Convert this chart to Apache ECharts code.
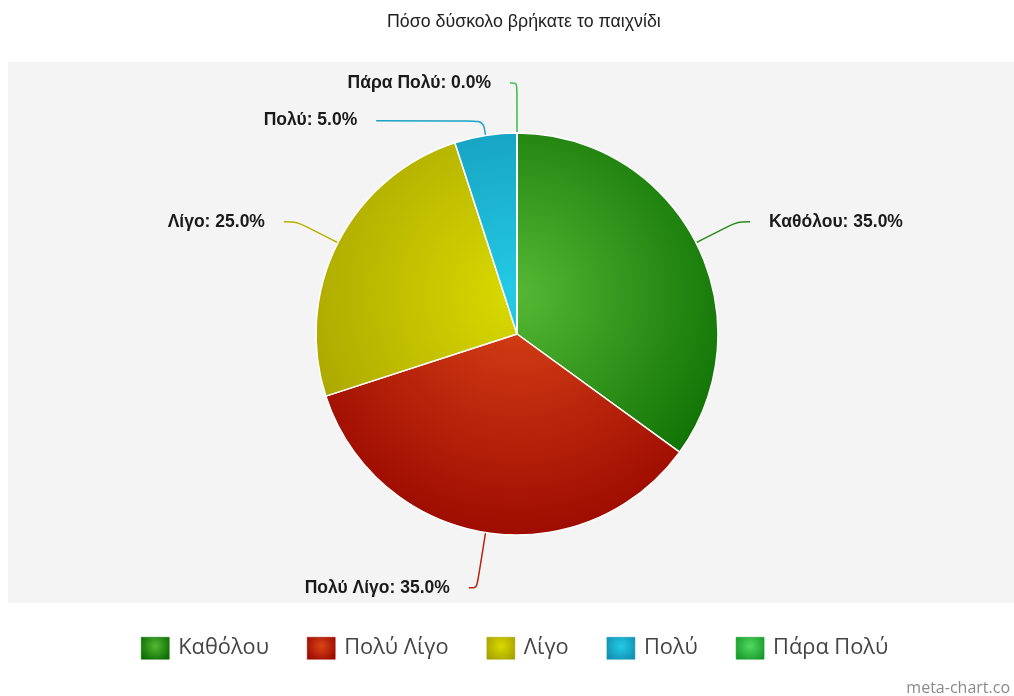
<!DOCTYPE html>
<html>
<head>
<meta charset="utf-8">
<script src="https://cdn.jsdelivr.net/npm/echarts@6/dist/echarts.min.js"></script>
<style>
html,body{margin:0;padding:0;background:#fff;}
#chart{width:1014px;height:696px;}
</style>
</head>
<body>
<div id="chart"></div>
<script>
const title = 'Πόσο δύσκολο βρήκατε το παιχνίδι';
const categories = ['Καθόλου', 'Πολύ Λίγο', 'Λίγο', 'Πολύ', 'Πάρα Πολύ'];
const values = [35, 35, 25, 5, 0];
const lightColors = ['#55b834', '#da4418', '#dada00', '#24cbe6', '#52d862'];
const darkColors = ['#0a6c00', '#9c0a00', '#a6a200', '#1190b2', '#169a2a'];
const lineColors = ['#2a8c1a', '#b82512', '#b4b400', '#1aa2c2', '#3cb84a'];

// connector geometry (layout, not data)
const lineLen1 = [46, 56, 46, 15, 50];
const lineLen2 = [13, 8, 13, 107, 7];

const cx = 517, cy = 334, R = 201;

function sliceGradient(i) {
  return {
    type: 'radial', x: cx, y: cy - 40, r: 250, global: true,
    colorStops: [{offset: 0, color: lightColors[i]}, {offset: 1, color: darkColors[i]}]
  };
}
function iconGradient(i) {
  return {
    type: 'radial', x: 0.5, y: 0.4, r: 0.75,
    colorStops: [{offset: 0, color: lightColors[i]}, {offset: 1, color: darkColors[i]}]
  };
}

const chart = echarts.init(document.getElementById('chart'), null, {renderer: 'canvas'});
chart.setOption({
  backgroundColor: '#ffffff',
  animation: false,
  title: {
    text: title, left: 382, top: 8,
    textStyle: {fontFamily: 'Liberation Sans', fontSize: 17.8, fontWeight: 'normal', color: '#222'}
  },
  graphic: [
    {type: 'rect', left: 8, top: 62, shape: {width: 1006, height: 541}, style: {fill: '#f4f4f4'}, z: -10},
    {type: 'text', right: 4, bottom: 0, style: {text: 'meta-chart.co', font: '16px "Open Sans"', fill: '#8a8a8a'}}
  ],
  legend: {
    top: 632, left: 136,
    itemWidth: 28, itemHeight: 22, itemGap: 38,
    icon: 'rect',
    textStyle: {fontFamily: 'Open Sans', fontSize: 21.8, color: '#444', padding: [0, 0, 0, 4]},
    data: categories.map((c, i) => ({name: c, itemStyle: {color: iconGradient(i), borderColor: darkColors[i], borderWidth: 0.5}}))
  },
  series: [{
    type: 'pie',
    center: [cx, cy],
    radius: R,
    startAngle: 90,
    clockwise: true,
    avoidLabelOverlap: false,
    itemStyle: {borderColor: '#ffffff', borderWidth: 1.5},
    label: {
      show: true,
      formatter: p => p.name + ': ' + p.value.toFixed(1) + '%',
      fontFamily: 'Liberation Sans', fontSize: 17.5, fontWeight: 'bold', color: '#1a1a1a',
      distanceToLabelLine: 19
    },
    labelLine: {show: true, smooth: 0.3, lineStyle: {width: 1.5}},
    emphasis: {disabled: true},
    data: categories.map((c, i) => ({
      name: c, value: values[i],
      itemStyle: {color: sliceGradient(i)},
      labelLine: {length: lineLen1[i], length2: lineLen2[i], lineStyle: {color: lineColors[i]}}
    }))
  }]
});
</script>
</body>
</html>
